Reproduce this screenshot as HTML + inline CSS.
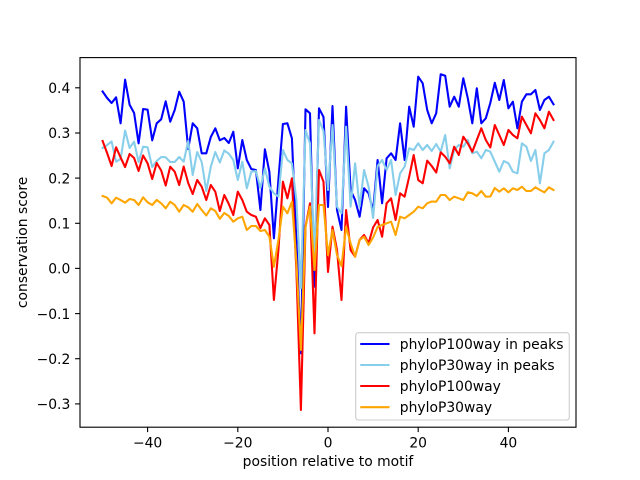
<!DOCTYPE html>
<html>
<head>
<meta charset="utf-8">
<style>
  html, body { margin: 0; padding: 0; background: #ffffff; }
  svg { display: block; }
  text { font-family: "DejaVu Sans", "Liberation Sans", sans-serif; font-size: 13.89px; fill: #000000; }
</style>
</head>
<body>
<svg width="640" height="480" viewBox="0 0 640 480" xmlns="http://www.w3.org/2000/svg">
  <rect x="0" y="0" width="640" height="480" fill="#ffffff"/>
  <defs>
    <clipPath id="ax"><rect x="80" y="57.6" width="496" height="369.6"/></clipPath>
  </defs>
  <g clip-path="url(#ax)" fill="none" stroke-width="2.08" stroke-linejoin="round" stroke-linecap="square">
    <polyline stroke="#0000ff" points="102.6,91.5 107.1,98 111.6,103 116.1,97.3 120.6,123.3 125.1,79.7 129.6,104.7 134.1,113 138.6,143.3 143.1,109 147.6,109.7 152.2,140.3 156.7,123.3 161.2,119.3 165.7,101.3 170.2,121.7 174.7,110 179.2,91.7 183.7,101.7 188.2,149 192.7,123.3 197.2,128.3 201.7,153.3 206.3,153.3 210.8,137 215.3,128.3 219.8,140.3 224.3,138 228.8,143 233.3,131.7 237.8,168.3 242.3,140 246.8,160 251.3,169 255.9,170 260.4,210 264.9,149.3 269.4,172 273.9,238.3 278.4,180 282.9,124 287.4,123.3 291.9,138.3 296.4,240 300.9,353.3 305.5,109.3 310,113.3 314.5,286.7 319,108.3 323.5,117 328,207 332.5,106 337,210 341.5,230 346.1,106.7 350.6,190 355.1,200 359.6,216.7 364.1,188.3 368.6,193.3 373.1,211 377.6,160 382.1,203.3 386.6,158.3 391.1,153.3 395.6,160 400.1,123.3 404.6,160 409.2,106.7 413.7,126.7 418.2,76.7 422.7,83.3 427.2,110 431.7,123.3 436.2,113.3 440.7,74.3 445.2,75.7 449.7,106.7 454.2,96.7 458.8,106.7 463.3,78.3 467.8,98.3 472.3,123.3 476.8,88.3 481.3,123.3 485.8,118.3 490.3,103 494.8,82.8 499.3,100 503.8,80 508.4,108.3 512.9,101.7 517.4,128.3 521.9,101.7 526.4,94.3 530.9,94.3 535.4,90 539.9,110 544.4,100 548.9,96.7 553.5,104.3"/>
    <polyline stroke="#87ceeb" points="102.6,148 107.1,145 111.6,141.5 116.1,161.7 120.6,159 125.1,130.5 129.6,148 134.1,141.7 138.6,162 143.1,146.7 147.6,147.3 152.2,167 156.7,161 161.2,157 165.7,157.3 170.2,162 174.7,162 179.2,157 183.7,161.7 188.2,141 192.7,175 197.2,152 201.7,162 206.3,191 210.8,166.7 215.3,152 219.8,162.5 224.3,150.5 228.8,153.7 233.3,160 237.8,180 242.3,161.7 246.8,188.3 251.3,171.7 255.9,171 260.4,188 264.9,168.3 269.4,186.7 273.9,193.3 278.4,196.7 282.9,150 287.4,160 291.9,163.3 296.4,200 300.9,288 305.5,130 310,143.3 314.5,256.7 319,120 323.5,131 328,190 332.5,125 337,206.7 341.5,213.3 346.1,126.7 350.6,206.7 355.1,163.3 359.6,206.7 364.1,170 368.6,186.7 373.1,218 377.6,166 382.1,160 386.6,170 391.1,160 395.6,195 400.1,173.3 404.6,166.7 409.2,148.3 413.7,150 418.2,143.3 422.7,150 427.2,145 431.7,151 436.2,144 440.7,151.7 445.2,135 449.7,168.3 454.2,150 458.8,145 463.3,146.7 467.8,140 472.3,153.3 476.8,151.7 481.3,158.3 485.8,150 490.3,151.7 494.8,161.7 499.3,171.7 503.8,161 508.4,163.3 512.9,171.7 517.4,173.3 521.9,143.3 526.4,146.7 530.9,161 535.4,150 539.9,183.3 544.4,153.3 548.9,150 553.5,141.7"/>
    <polyline stroke="#ff0000" points="102.6,141 107.1,153 111.6,166 116.1,147.3 120.6,157.5 125.1,167 129.6,154 134.1,158 138.6,171 143.1,155.5 147.6,163.3 152.2,179 156.7,163 161.2,170.5 165.7,185.5 170.2,166.7 174.7,171.7 179.2,185 183.7,166.5 188.2,183 192.7,194 197.2,180 201.7,186.7 206.3,200 210.8,185 215.3,191.7 219.8,211 224.3,195 228.8,204 233.3,215 237.8,191.7 242.3,200 246.8,211.7 251.3,215 255.9,216.7 260.4,228 264.9,218.3 269.4,225 273.9,300 278.4,250 282.9,181.7 287.4,198.3 291.9,178.3 296.4,270 300.9,410 305.5,226.7 310,203.3 314.5,333.3 319,170 323.5,181.7 328,272 332.5,226.7 337,250 341.5,300 346.1,210 350.6,250 355.1,256.7 359.6,240 364.1,235 368.6,243.3 373.1,227.5 377.6,220 382.1,236.7 386.6,203.3 391.1,198.3 395.6,220 400.1,193.3 404.6,196.7 409.2,176.7 413.7,155 418.2,180 422.7,183.3 427.2,160.7 431.7,166 436.2,172.5 440.7,152.3 445.2,156.7 449.7,163.3 454.2,146.7 458.8,155 463.3,136.7 467.8,143.3 472.3,151.7 476.8,140 481.3,128.3 485.8,140 490.3,147.5 494.8,125 499.3,135 503.8,145 508.4,130 512.9,135 517.4,138.3 521.9,116.7 526.4,125 530.9,133.3 535.4,113.3 539.9,120 544.4,128.3 548.9,111.7 553.5,120"/>
    <polyline stroke="#ffa500" points="102.6,196 107.1,197.7 111.6,203.3 116.1,197.7 120.6,200 125.1,202.7 129.6,199 134.1,200 138.6,205 143.1,197.3 147.6,202.3 152.2,205 156.7,200 161.2,203.3 165.7,208.3 170.2,201.7 174.7,205 179.2,211.7 183.7,205 188.2,207.3 192.7,211.7 197.2,204 201.7,210 206.3,215.5 210.8,208.3 215.3,211 219.8,218.8 224.3,213 228.8,216 233.3,221.7 237.8,218.3 242.3,216.7 246.8,230 251.3,226 255.9,226 260.4,231 264.9,230 269.4,236.7 273.9,266.7 278.4,240 282.9,206.7 287.4,213.3 291.9,201.7 296.4,262 300.9,350 305.5,226.7 310,206.7 314.5,270 319,205 323.5,205 328,255 332.5,230 337,255 341.5,266 346.1,226.7 350.6,243.3 355.1,256.7 359.6,240 364.1,236.7 368.6,245 373.1,237.5 377.6,227 382.1,225 386.6,223.3 391.1,221.7 395.6,235 400.1,216.7 404.6,218.3 409.2,215 413.7,211.7 418.2,206.7 422.7,208.3 427.2,203.3 431.7,201.5 436.2,201.7 440.7,195 445.2,195 449.7,200 454.2,196.7 458.8,198.3 463.3,200 467.8,192.3 472.3,193.3 476.8,196 481.3,191 485.8,196.7 490.3,196.5 494.8,188 499.3,191.7 503.8,188.3 508.4,192.3 512.9,188.3 517.4,190 521.9,186.7 526.4,191 530.9,191 535.4,187.3 539.9,190 544.4,192.3 548.9,187.3 553.5,190"/>
  </g>

  <!-- axes frame -->
  <rect x="80" y="57.6" width="496" height="369.6" fill="none" stroke="#000000" stroke-width="1.11"/>

  <!-- x ticks -->
  <g stroke="#000000" stroke-width="1.11">
    <line x1="147.6" y1="427.2" x2="147.6" y2="432.1"/>
    <line x1="237.8" y1="427.2" x2="237.8" y2="432.1"/>
    <line x1="328" y1="427.2" x2="328" y2="432.1"/>
    <line x1="418.2" y1="427.2" x2="418.2" y2="432.1"/>
    <line x1="508.4" y1="427.2" x2="508.4" y2="432.1"/>
  </g>
  <g text-anchor="middle">
    <text x="147.6" y="447.5">−40</text>
    <text x="237.8" y="447.5">−20</text>
    <text x="328" y="447.5">0</text>
    <text x="418.2" y="447.5">20</text>
    <text x="508.4" y="447.5">40</text>
  </g>

  <!-- y ticks -->
  <g stroke="#000000" stroke-width="1.11">
    <line x1="75.1" y1="87.8" x2="80" y2="87.8"/>
    <line x1="75.1" y1="133" x2="80" y2="133"/>
    <line x1="75.1" y1="178.1" x2="80" y2="178.1"/>
    <line x1="75.1" y1="223.3" x2="80" y2="223.3"/>
    <line x1="75.1" y1="268.4" x2="80" y2="268.4"/>
    <line x1="75.1" y1="313.6" x2="80" y2="313.6"/>
    <line x1="75.1" y1="358.7" x2="80" y2="358.7"/>
    <line x1="75.1" y1="403.9" x2="80" y2="403.9"/>
  </g>
  <g text-anchor="end">
    <text x="70.3" y="93">0.4</text>
    <text x="70.3" y="138.2">0.3</text>
    <text x="70.3" y="183.3">0.2</text>
    <text x="70.3" y="228.5">0.1</text>
    <text x="70.3" y="273.6">0.0</text>
    <text x="70.3" y="318.8">−0.1</text>
    <text x="70.3" y="363.9">−0.2</text>
    <text x="70.3" y="409.1">−0.3</text>
  </g>

  <!-- axis labels -->
  <text x="328" y="466" text-anchor="middle">position relative to motif</text>
  <text transform="translate(27,242.4) rotate(-90)" text-anchor="middle">conservation score</text>

  <!-- legend -->
  <rect x="355.7" y="332.7" width="213.6" height="87.3" rx="2.8" ry="2.8" fill="#ffffff" fill-opacity="0.8" stroke="#cccccc" stroke-width="1.11"/>
  <g stroke-width="2.08" stroke-linecap="square">
    <line x1="361.3" y1="344" x2="388.5" y2="344" stroke="#0000ff"/>
    <line x1="361.3" y1="365" x2="388.5" y2="365" stroke="#87ceeb"/>
    <line x1="361.3" y1="386" x2="388.5" y2="386" stroke="#ff0000"/>
    <line x1="361.3" y1="407.2" x2="388.5" y2="407.2" stroke="#ffa500"/>
  </g>
  <text x="399.8" y="349">phyloP100way in peaks</text>
  <text x="399.8" y="370">phyloP30way in peaks</text>
  <text x="399.8" y="391">phyloP100way</text>
  <text x="399.8" y="412.2">phyloP30way</text>
</svg>
</body>
</html>
